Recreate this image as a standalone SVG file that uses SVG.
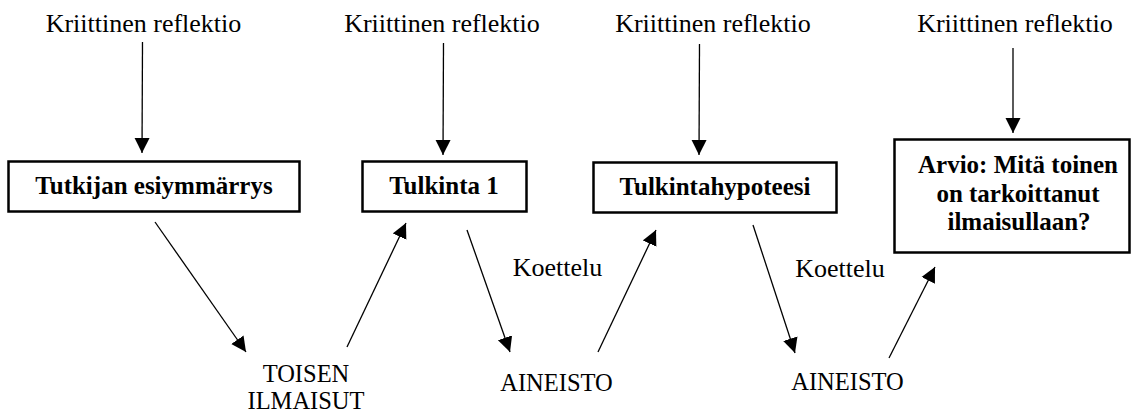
<svg xmlns="http://www.w3.org/2000/svg" width="1132" height="414" viewBox="0 0 1132 414">
  <style>
    text { font-family: "Liberation Serif", "Times New Roman", Tinos, "DejaVu Serif", "Noto Serif", serif; fill: #000; text-anchor: middle; }
    .lbl { font-size: 26px; }
    .caps { font-size: 24.5px; }
    .bold { font-size: 25px; font-weight: bold; }
    .box { fill: #fff; stroke: #000; stroke-width: 2.5; }
    .edge { fill: none; stroke: #000; stroke-width: 1.3; marker-end: url(#head); }
  </style>
  <defs>
    <marker id="head" markerUnits="userSpaceOnUse" markerWidth="16" markerHeight="16" viewBox="0 0 16 16" refX="15" refY="8" orient="auto">
      <path d="M0,0.5 L15,8 L0,15.5 Z" fill="#000"/>
    </marker>
  </defs>

  <!-- reflection labels -->
  <g id="reflection-labels">
    <text class="lbl" x="143.5" y="32" font-family="Liberation Serif, serif">Kriittinen reflektio</text>
    <text class="lbl" x="442" y="32" font-family="Liberation Serif, serif">Kriittinen reflektio</text>
    <text class="lbl" x="713" y="32" font-family="Liberation Serif, serif">Kriittinen reflektio</text>
    <text class="lbl" x="1015" y="32" font-family="Liberation Serif, serif">Kriittinen reflektio</text>
  </g>

  <!-- boxed stages -->
  <g id="esiymmarrys">
    <rect class="box" x="8.5" y="161.5" width="291" height="50"/>
    <text class="bold" x="154" y="194">Tutkijan esiymmärrys</text>
  </g>
  <g id="tulkinta1">
    <rect class="box" x="362.5" y="161.5" width="164" height="50"/>
    <text class="bold" x="444" y="194">Tulkinta 1</text>
  </g>
  <g id="tulkintahypoteesi">
    <rect class="box" x="593.5" y="162.5" width="243" height="50"/>
    <text class="bold" x="715" y="195">Tulkintahypoteesi</text>
  </g>
  <g id="arvio">
    <rect class="box" x="894.5" y="139.5" width="235" height="113"/>
    <text class="bold" x="1018" y="173">Arvio: Mitä toinen</text>
    <text class="bold" x="1018" y="202">on tarkoittanut</text>
    <text class="bold" x="1019" y="230">ilmaisullaan?</text>
  </g>

  <!-- material labels -->
  <g id="toisen-ilmaisut">
    <text class="caps" x="306" y="382">TOISEN</text>
    <text class="caps" x="306" y="409">ILMAISUT</text>
  </g>
  <g id="aineisto1">
    <text class="caps" x="556.5" y="391">AINEISTO</text>
  </g>
  <g id="aineisto2">
    <text class="caps" x="847.5" y="390">AINEISTO</text>
  </g>
  <g id="koettelu-labels">
    <text class="lbl" x="557.5" y="276">Koettelu</text>
    <text class="lbl" x="840" y="277">Koettelu</text>
  </g>

  <!-- connectors -->
  <g id="connectors">
    <line class="edge" x1="142.5" y1="42" x2="142" y2="153"/>
    <line class="edge" x1="443.5" y1="43" x2="443" y2="155"/>
    <line class="edge" x1="699.5" y1="44" x2="699" y2="155"/>
    <line class="edge" x1="1013" y1="48" x2="1013" y2="133"/>

    <line class="edge" x1="155" y1="222" x2="246" y2="352"/>
    <line class="edge" x1="347" y1="347" x2="406" y2="223"/>
    <line class="edge" x1="467" y1="230" x2="510" y2="352"/>
    <line class="edge" x1="598" y1="352" x2="656" y2="230"/>
    <line class="edge" x1="753" y1="225" x2="795" y2="353"/>
    <line class="edge" x1="889" y1="358" x2="935" y2="267"/>
  </g>
</svg>
